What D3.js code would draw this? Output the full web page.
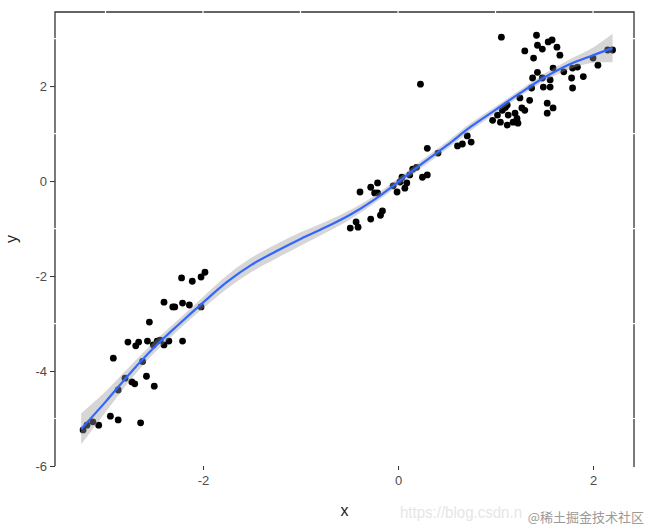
<!DOCTYPE html>
<html>
<head>
<meta charset="utf-8">
<script src="https://cdn.jsdelivr.net/npm/d3@7"></script>
<style>
  body { margin: 0; background: #fff; }
  svg { display: block; font-family: "Liberation Sans", Arial, sans-serif; }
</style>
</head>
<body>
<svg id="chart" width="650" height="529"></svg>
<script>
// ---- data ----
const pointsX = [
  -1.98, -2.02, -2.11, -2.22, -2.40, -2.31, -2.29, -2.21, -2.14, -2.02,
  -2.55, -2.77, -2.69, -2.66, -2.57, -2.51, -2.47, -2.40, -2.35, -2.21,
  -2.92, -2.80, -2.73, -2.70, -2.58, -2.50, -2.87, -2.95, -2.87, -2.64,
  -3.07, -3.13, -3.19, -3.23, -2.44, -2.62,
  0.30, 0.61, 0.41, -0.39, -0.28, -0.21, -0.24, -0.21, 0.04, 0.02,
  -0.01, 0.07, 0.12, 0.19, 0.25, 0.30, -0.16, -0.18, -0.28, -0.43,
  -0.49, -0.41, 0.09, 0.23, 0.66, 0.71, 0.75, 0.15, -0.05,
  1.06, 1.30, 1.42, 1.43, 1.48, 1.39, 1.43, 1.38, 1.48, 1.37,
  1.49, 1.53, 1.53, 1.25, 1.27, 1.12, 1.07, 1.02, 1.13, 1.20,
  1.30, 0.97, 1.05, 1.18, 1.23, 1.12, 1.54,
  1.58, 1.63, 1.66, 1.59, 1.56, 1.56, 1.59, 1.79, 1.78, 1.79,
  2.00, 2.05, 2.15, 1.84, 2.20, 1.70, 1.35, 1.90, 1.10, 1.22
];
const pointsY = [
  -1.92, -2.02, -2.11, -2.04, -2.55, -2.65, -2.65, -2.57, -2.61, -2.65,
  -2.97, -3.39, -3.47, -3.39, -3.37, -3.45, -3.37, -3.45, -3.37, -3.37,
  -3.73, -4.15, -4.23, -4.27, -4.11, -4.32, -4.40, -4.95, -5.03, -5.09,
  -5.14, -5.07, -5.14, -5.24, -3.35, -3.80,
  0.69, 0.74, 0.59, -0.23, -0.13, -0.04, -0.25, -0.25, 0.08, -0.02,
  -0.23, -0.15, 0.13, 0.29, 0.08, 0.13, -0.63, -0.72, -0.80, -0.86,
  -0.99, -0.97, -0.04, 2.04, 0.78, 0.95, 0.82, 0.25, -0.10,
  3.03, 2.74, 3.07, 2.86, 2.78, 2.59, 2.29, 2.17, 2.17, 1.96,
  1.98, 1.64, 1.43, 1.75, 1.54, 1.60, 1.49, 1.39, 1.39, 1.43,
  1.49, 1.28, 1.24, 1.24, 1.22, 1.18, 2.93,
  2.97, 2.82, 2.65, 2.38, 2.13, 1.98, 1.54, 2.38, 2.17, 1.96,
  2.59, 2.44, 2.76, 2.40, 2.76, 2.30, 1.70, 2.20, 1.55, 1.32
];

// smoothed fit and its band
const fitX  = [-3.25, -3.0, -2.75, -2.5, -2.25, -2.0, -1.75, -1.5, -1.25, -1.0, -0.75, -0.5, -0.25, 0, 0.25, 0.5, 0.75, 1.0, 1.25, 1.5, 1.75, 2.0, 2.2];
const fitY  = [-5.22, -4.65, -4.05, -3.5, -3.02, -2.56, -2.12, -1.76, -1.48, -1.22, -0.98, -0.72, -0.4, -0.02, 0.37, 0.75, 1.15, 1.5, 1.85, 2.18, 2.45, 2.65, 2.8];
const fitSE = [0.33, 0.22, 0.15, 0.12, 0.11, 0.12, 0.14, 0.15, 0.15, 0.14, 0.12, 0.1, 0.08, 0.08, 0.08, 0.08, 0.08, 0.07, 0.07, 0.08, 0.1, 0.16, 0.3];

const xTicks = [-2, 0, 2];
const yTicks = [2, 0, -2, -4, -6];
const xGrid = [-3, -2, -1, 0, 1, 2];
const yGrid = [3, 1, -1, -3, -5];

// =========================
// layout
// =========================
const svg = d3.select("#chart");
const m = { left: 55, right: 634, top: 12, bottom: 466 };

const x = d3.scaleLinear().domain([-3.518, 2.42]).range([m.left, m.right]);
const y = d3.scaleLinear().domain([-6, 3.56]).range([m.bottom, m.top]);

// frame: top, left, right (no bottom line)
const frame = svg.append("g").attr("stroke", "#333").attr("stroke-width", 1.3).attr("fill", "none");
frame.append("path").attr("d", `M${m.left},${m.bottom}V${m.top}H${m.right}V${m.bottom + 1}`);

// white grid lines cut small gaps into the frame
const grid = svg.append("g").attr("stroke", "#fff").attr("stroke-width", 1.2);
grid.selectAll("line.gx").data(xGrid).join("line")
  .attr("x1", d => x(d)).attr("x2", d => x(d))
  .attr("y1", m.top - 2).attr("y2", m.bottom);
grid.selectAll("line.gy").data(yGrid).join("line")
  .attr("x1", m.left - 2).attr("x2", m.right + 2)
  .attr("y1", d => y(d)).attr("y2", d => y(d));

// axes
const xAxis = svg.append("g")
  .attr("transform", `translate(0,${m.bottom})`)
  .call(d3.axisBottom(x).tickValues(xTicks).tickSize(4).tickPadding(6).tickFormat(d3.format("d")));
xAxis.select(".domain").remove();

const yAxis = svg.append("g")
  .attr("transform", `translate(${m.left},0)`)
  .call(d3.axisLeft(y).tickValues(yTicks).tickSize(5).tickPadding(3).tickFormat(d3.format("d")));
yAxis.select(".domain").remove();

svg.selectAll(".tick text").attr("fill", "#4d4d4d").attr("font-size", 13)
  .attr("font-family", "'Liberation Sans', Arial, sans-serif");
svg.selectAll(".tick line").attr("stroke", "#333");
svg.selectAll(".tick text").text(function () { return this.textContent.replace("\u2212", "-"); });

// axis titles
svg.append("text").attr("x", (m.left + m.right) / 2).attr("y", 516)
  .attr("text-anchor", "middle").attr("font-size", 16).attr("fill", "#222").text("x");
svg.append("text")
  .attr("transform", `translate(17,${(m.top + m.bottom) / 2}) rotate(-90)`)
  .attr("text-anchor", "middle").attr("font-size", 16).attr("fill", "#222").text("y");

// =========================
// marks
// =========================
const pts = pointsX.map((v, i) => ({ x: v, y: pointsY[i] }));
svg.append("g").selectAll("circle").data(pts).join("circle")
  .attr("cx", d => x(d.x)).attr("cy", d => y(d.y)).attr("r", 3.4).attr("fill", "#000");

const fit = fitX.map((v, i) => ({ x: v, y: fitY[i], se: fitSE[i] }));

svg.append("path").datum(fit)
  .attr("fill", "#999").attr("fill-opacity", 0.4)
  .attr("d", d3.area().curve(d3.curveCatmullRom)
    .x(d => x(d.x)).y0(d => y(d.y - d.se)).y1(d => y(d.y + d.se)));

svg.append("path").datum(fit)
  .attr("fill", "none").attr("stroke", "#3366ff").attr("stroke-width", 2.2)
  .attr("d", d3.line().curve(d3.curveCatmullRom).x(d => x(d.x)).y(d => y(d.y)));

// watermark
svg.append("text").attr("x", 400).attr("y", 518).attr("font-size", 16)
  .attr("textLength", 122).attr("lengthAdjust", "spacingAndGlyphs")
  .attr("fill", "#e6e6e6").text("https://blog.csdn.n");
svg.append("text").attr("x", 644).attr("y", 522).attr("text-anchor", "end")
  .attr("font-size", 13).attr("fill", "#9a9a9a")
  .attr("font-family", "'Noto Sans CJK SC', sans-serif").text("@稀土掘金技术社区");
</script>
</body>
</html>
